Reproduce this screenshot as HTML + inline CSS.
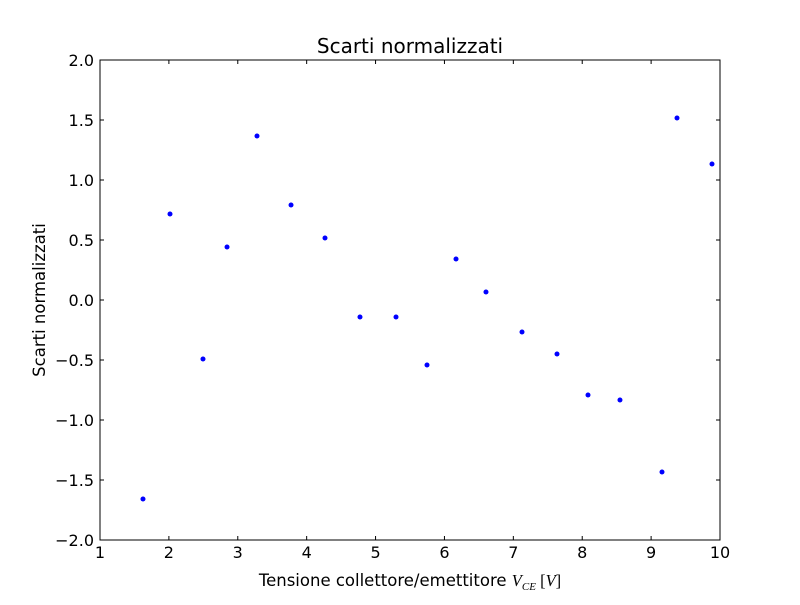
<!DOCTYPE html>
<html><head><meta charset="utf-8"><style>
body{margin:0;background:#fff;}
svg text{font-family:"DejaVu Sans","Liberation Sans",sans-serif;}
</style></head><body>
<svg id="chart" width="800" height="600" xmlns="http://www.w3.org/2000/svg">
<rect x="0" y="0" width="800" height="600" fill="#fff"/>
<g id="axes"></g>
<g id="marks"></g>
</svg>
<script>
const xVals=[1.624,2.016,2.495,2.844,3.279,3.773,4.266,4.774,5.297,5.747,6.168,6.603,7.126,7.634,8.084,8.548,9.158,9.376,9.884];
const yVals=[-1.658,0.717,-0.492,0.442,1.367,0.792,0.517,-0.142,-0.142,-0.542,0.342,0.067,-0.267,-0.45,-0.792,-0.833,-1.433,1.517,1.133];
const xTicks=[1,2,3,4,5,6,7,8,9,10];
const yTicks=[-2.0,-1.5,-1.0,-0.5,0.0,0.5,1.0,1.5,2.0];
const L=100,R=720,T=60,B=540,xMin=1,xMax=10,yMin=-2,yMax=2;
const sx=v=>L+(v-xMin)/(xMax-xMin)*(R-L);
const sy=v=>B-(v-yMin)/(yMax-yMin)*(B-T);
const NS="http://www.w3.org/2000/svg";
const ax=document.getElementById('axes'),mk=document.getElementById('marks');
function mkEl(t,a,p){const e=document.createElementNS(NS,t);for(const k in a)e.setAttribute(k,a[k]);p.appendChild(e);return e;}
const frame=mkEl('rect',{x:L,y:T,width:R-L,height:B-T,fill:'none',stroke:'#000','stroke-width':1},ax);


xTicks.forEach(v=>{const x=sx(v);
 mkEl('line',{x1:x,x2:x,y1:B,y2:B-4,stroke:'#000'},ax);
 mkEl('line',{x1:x,x2:x,y1:T,y2:T+4,stroke:'#000'},ax);
 const t=mkEl('text',{x:x,y:B+18,'text-anchor':'middle','font-size':16},ax);t.textContent=v;
 
 
});
yTicks.forEach(v=>{const y=sy(v);
 mkEl('line',{x1:L,x2:L+4,y1:y,y2:y,stroke:'#000'},ax);
 mkEl('line',{x1:R,x2:R-4,y1:y,y2:y,stroke:'#000'},ax);
 const t=mkEl('text',{x:L-6,y:y+6,'text-anchor':'end','font-size':16},ax);t.textContent=(v<0?'\u2212':'')+Math.abs(v).toFixed(1);
 
 
});
xVals.forEach((v,i)=>{
 const c=mkEl('circle',{cx:sx(v),cy:sy(yVals[i]),r:2.5,fill:'#0000ff'},mk);
 
 
});
</script>
<svg width="800" height="600" style="position:absolute;left:0;top:0" xmlns="http://www.w3.org/2000/svg">
<text x="410" y="53" text-anchor="middle" font-size="20" font-family="DejaVu Sans,Liberation Sans,sans-serif">Scarti normalizzati</text>
<text x="410" y="586" text-anchor="middle" font-size="16.5" font-family="DejaVu Sans,Liberation Sans,sans-serif">Tensione collettore/emettitore <tspan font-family="Liberation Serif,serif" font-style="italic">V<tspan font-size="11" dy="4">CE</tspan></tspan><tspan dy="-4" font-family="Liberation Serif,serif"> [<tspan font-style="italic">V</tspan>]</tspan></text>
<text x="45" y="300" text-anchor="middle" font-size="16.5" font-family="DejaVu Sans,Liberation Sans,sans-serif" transform="rotate(-90 45 300)">Scarti normalizzati</text>
</svg>
</body></html>
